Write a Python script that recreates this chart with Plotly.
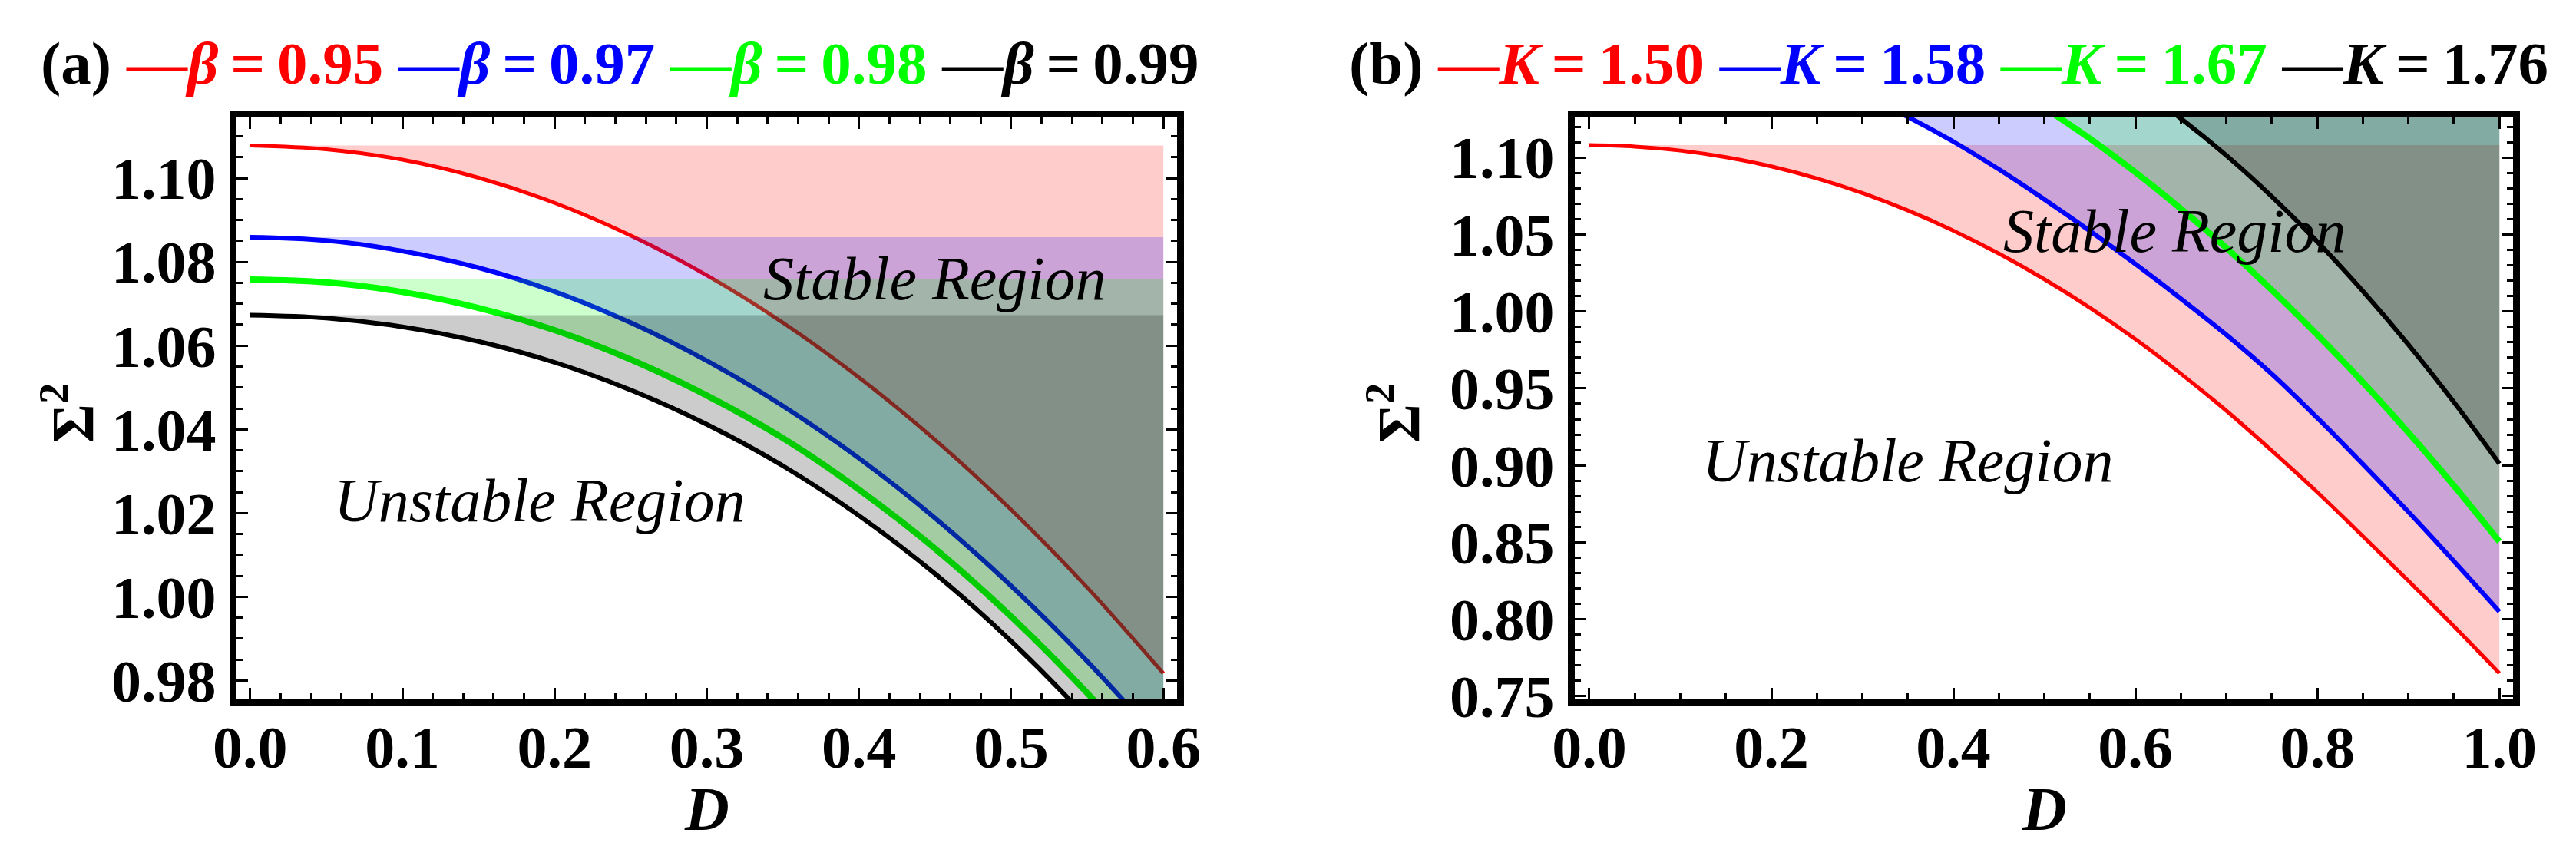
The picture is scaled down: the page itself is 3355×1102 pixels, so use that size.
import plotly.graph_objects as go

W, H = 3355, 1102

# ---- data ----
beta_labels = ["0.95", "0.97", "0.98", "0.99"]
k_labels = ["1.50", "1.58", "1.67", "1.76"]

# panel (a): Sigma^2 vs D for four beta values
D_a = [0.00, 0.05, 0.10, 0.15, 0.20, 0.25, 0.30, 0.35, 0.40, 0.45, 0.50, 0.55, 0.60]
sig_a_095 = [1.1078, 1.1069, 1.1044, 1.1001, 1.0941, 1.0863, 1.0768, 1.0655, 1.0524, 1.0375, 1.0208, 1.0022, 0.9817]
sig_a_097 = [1.0859, 1.0851, 1.0826, 1.0786, 1.0729, 1.0655, 1.0564, 1.0456, 1.0331, 1.0188, 1.0026, 0.9846, 0.9646]
sig_a_098 = [1.0758, 1.0751, 1.0728, 1.0690, 1.0637, 1.0567, 1.0481, 1.0379, 1.0256, 1.0115, 0.9953, 0.9770, 0.9564]
sig_a_099 = [1.0673, 1.0666, 1.0645, 1.0610, 1.0560, 1.0494, 1.0412, 1.0313, 1.0194, 1.0055, 0.9894, 0.9709, 0.9498]

# panel (b): Sigma^2 vs D for four K values (upper parts run off the top)
D_b150 = [0.00, 0.05, 0.10, 0.15, 0.20, 0.25, 0.30, 0.35, 0.40, 0.45, 0.50,
          0.55, 0.60, 0.65, 0.70, 0.75, 0.80, 0.85, 0.90, 0.95, 1.00]
sig_b150 = [1.1080, 1.1071, 1.1045, 1.1002, 1.0942, 1.0864, 1.0769, 1.0656, 1.0525, 1.0376, 1.0209,
            1.0024, 0.9820, 0.9595, 0.9355, 0.9095, 0.8825, 0.8540, 0.8250, 0.7955, 0.7650]
D_b158 = [0.30, 0.35, 0.40, 0.45, 0.50, 0.55, 0.60, 0.65, 0.70, 0.75, 0.80, 0.85, 0.90, 0.95, 1.00]
sig_b158 = [1.1403, 1.1263, 1.1103, 1.0923, 1.0728, 1.0523, 1.0308, 1.0083, 0.9848, 0.9593, 0.9308,
            0.9008, 0.8698, 0.8378, 0.8050]
D_b167 = [0.50, 0.55, 0.60, 0.65, 0.70, 0.75, 0.80, 0.85, 0.90, 0.95, 1.00]
sig_b167 = [1.1323, 1.1123, 1.0904, 1.0667, 1.0412, 1.0139, 0.9848, 0.9540, 0.9213, 0.8868, 0.8505]
D_b176 = [0.60, 0.65, 0.70, 0.75, 0.80, 0.85, 0.90, 0.95, 1.00]
sig_b176 = [1.1467, 1.1253, 1.1013, 1.0746, 1.0453, 1.0132, 0.9785, 0.9411, 0.9011]

xticks_a = [0.0, 0.1, 0.2, 0.3, 0.4, 0.5, 0.6]
yticks_a = [0.98, 1.00, 1.02, 1.04, 1.06, 1.08, 1.10]
xticks_b = [0.0, 0.2, 0.4, 0.6, 0.8, 1.0]
yticks_b = [0.75, 0.80, 0.85, 0.90, 0.95, 1.00, 1.05, 1.10]

line_colors = ["#ff0000", "#0000ff", "#00ff00", "#000000"]
fill_colors = ["rgba(255,0,0,0.2)", "rgba(0,0,255,0.2)", "rgba(0,255,0,0.2)", "rgba(0,0,0,0.2)"]
line_widths = [5, 6, 8, 6]

FONT = "Liberation Serif"

fig = go.Figure()


def add_curve(xs, ys, i, xa, ya):
    # shaded band between the curve and its own maximum, then the curve on top
    top = max(ys)
    fig.add_trace(go.Scatter(x=xs + xs[::-1], y=ys + [top] * len(xs), fill="toself",
                             fillcolor=fill_colors[i], line=dict(width=0), mode="lines",
                             hoverinfo="skip", showlegend=False, xaxis=xa, yaxis=ya))
    fig.add_trace(go.Scatter(x=xs, y=ys, mode="lines",
                             line=dict(color=line_colors[i], width=line_widths[i], shape="spline"),
                             showlegend=False, xaxis=xa, yaxis=ya))


for i, ys in enumerate([sig_a_095, sig_a_097, sig_a_098, sig_a_099]):
    add_curve(D_a, ys, i, "x", "y")

for i, (xs, ys) in enumerate([(D_b150, sig_b150), (D_b158, sig_b158), (D_b167, sig_b167), (D_b176, sig_b176)]):
    add_curve(xs, ys, i, "x2", "y2")


def axis(domain, rng, ticks, fmt, minor_dt, anchor, standoff):
    return dict(domain=domain, range=rng, anchor=anchor, automargin=False,
                tickvals=ticks, ticktext=[fmt.format(t) for t in ticks],
                ticks="inside", ticklen=15, tickwidth=3, tickcolor="black",
                minor=dict(ticks="inside", dtick=minor_dt, ticklen=8, tickwidth=2.5, tickcolor="black"),
                showline=True, linewidth=9, linecolor="black", mirror="allticks",
                showgrid=False, zeroline=False, ticklabelstandoff=standoff,
                tickfont=dict(family=FONT, size=78, color="black", weight="bold"))


ydom = [1 - 903 / H, 1 - 145 / H]
fig.update_layout(
    template="none",
    width=W, height=H, margin=dict(l=0, r=0, t=0, b=0, pad=0),
    paper_bgcolor="white", plot_bgcolor="white", showlegend=False,
    xaxis=axis([300 / W, 1525 / W], [-0.009, 0.609], xticks_a, "{:.1f}", 0.02, "y", -14),
    yaxis=axis(ydom, [0.9755, 1.1145], yticks_a, "{:.2f}", 0.005, "x", 2),
    xaxis2=axis([2043 / W, 3265 / W], [-0.016, 1.015], xticks_b, "{:.1f}", 0.05, "y2", -14),
    yaxis2=axis(ydom, [0.748, 1.126], yticks_b, "{:.2f}", 0.01, "x2", 2),
)

TS = "\u2009"  # thin space around '='


def legend_text(tag, sym, labels):
    parts = ["<b>(%s)</b>" % tag]
    for c, lab in zip(line_colors, labels):
        parts.append("<span style='color:%s'><b>—<i>%s</i>%s=%s%s</b></span>" % (c, sym, TS, TS, lab))
    return " ".join(parts)


ann = []
for x0, tag, sym, labs in [(43, "a", "β", beta_labels), (1747, "b", "K", k_labels)]:
    ann.append(dict(xref="paper", yref="paper", x=x0 / W, y=1 - 75 / H, xanchor="left", yanchor="middle",
                    text=legend_text(tag, sym, labs), showarrow=False,
                    font=dict(family=FONT, size=79, color="black")))
for xs, xd in [(80, 912), (1807, 2654)]:
    ann.append(dict(xref="paper", yref="paper", x=xs / W, y=1 - 530 / H, xanchor="center", yanchor="middle",
                    text="<b>Σ<sup>2</sup></b>", textangle=-90, showarrow=False,
                    font=dict(family=FONT, size=78, color="black")))
    ann.append(dict(xref="paper", yref="paper", x=xd / W, y=1 - 1046 / H, xanchor="center", yanchor="middle",
                    height=62, text="<b><i>D</i></b>", showarrow=False,
                    font=dict(family=FONT, size=80, color="black")))
for xr, yr, x, y, t in [("x", "y", 0.45, 1.076, "Stable Region"), ("x", "y", 0.19, 1.023, "Unstable Region"),
                        ("x2", "y2", 0.643, 1.052, "Stable Region"), ("x2", "y2", 0.35, 0.903, "Unstable Region")]:
    ann.append(dict(xref=xr, yref=yr, x=x, y=y, xanchor="center", yanchor="middle", text="<i>%s</i>" % t,
                    showarrow=False, font=dict(family=FONT, size=80, color="black")))
fig.update_layout(annotations=ann)

fig.write_html("out.html")
